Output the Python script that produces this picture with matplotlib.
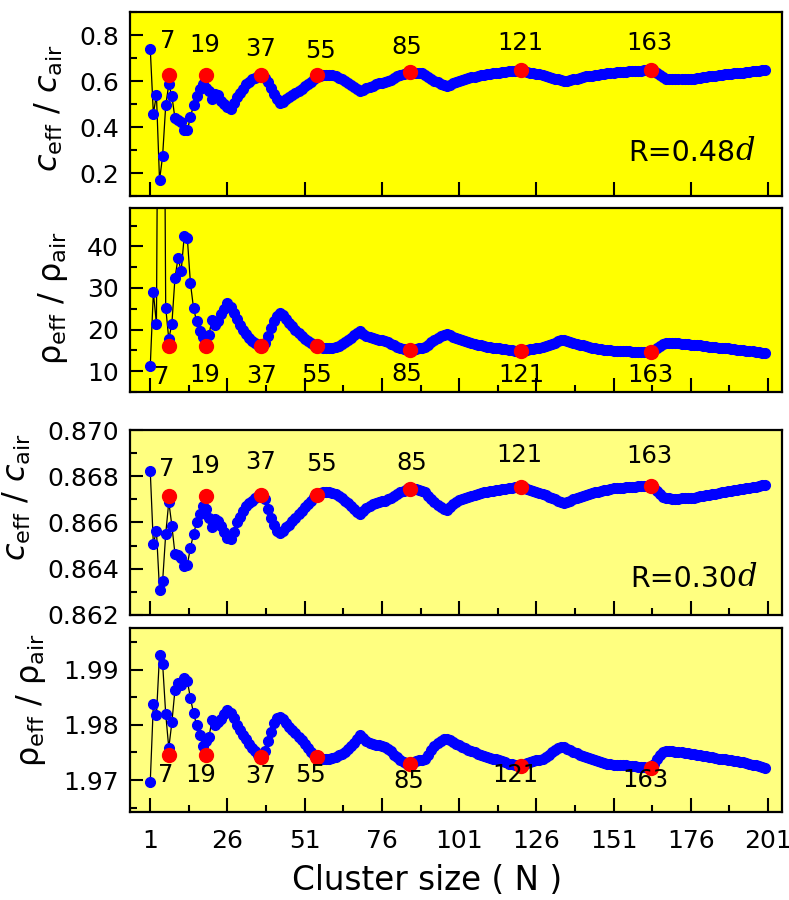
import matplotlib
matplotlib.use('Agg')
import matplotlib.pyplot as plt
import numpy as np

# cluster sizes
N = list(range(1, 201))
magic = [7, 19, 37, 55, 85, 121, 163]

# R = 0.48d : sound speed ratio
c_048 = [
    .740, .458, .540, .168, .274, .494, .585, .535, .438, .430,
    .420, .387, .385, .443, .495, .535, .565, .585, .570, .555,
    .520, .545, .540, .515, .500, .485, .480, .505, .530, .550,
    .565, .585, .598, .608, .615, .620, .625, .615, .595, .570,
    .545, .520, .503, .510, .520, .530, .540, .550, .558, .567,
    .577, .587, .598, .610, .620, .624, .626, .627, .627, .626,
    .622, .615, .608, .600, .592, .583, .574, .565, .558, .563,
    .570, .576, .580, .585, .590, .592, .596, .600, .605, .612,
    .620, .625, .630, .633, .636, .637, .637, .636, .634, .627,
    .619, .610, .602, .595, .588, .581, .577, .584, .590, .596,
    .602, .606, .610, .613, .616, .619, .622, .625, .628, .630,
    .632, .634, .635, .636, .638, .640, .642, .644, .645, .646,
    .647, .645, .641, .637, .634, .632, .630, .627, .623, .619,
    .615, .611, .607, .603, .600, .602, .605, .608, .611, .614,
    .617, .620, .622, .624, .626, .628, .630, .632, .634, .635,
    .637, .638, .639, .640, .641, .642, .642, .643, .644, .645,
    .646, .647, .648, .642, .634, .626, .618, .611, .607, .607,
    .608, .608, .609, .609, .610, .610, .611, .613, .615, .617,
    .618, .620, .621, .623, .625, .627, .629, .630, .632, .633,
    .635, .636, .637, .639, .640, .642, .643, .645, .647, .648]
c_048_magic = [0.626, 0.626, 0.625, 0.625, 0.640, 0.648, 0.650]

# R = 0.48d : density ratio
rho_048 = [
    11.2, 29.0, 21.3, 150, 150, 25.3, 17.7, 21.4, 32.4, 37.2,
    34.0, 42.5, 42.0, 31.2, 25.2, 22.0, 19.7, 18.2, 18.3, 18.8,
    22.4, 21.0, 22.0, 23.7, 25.0, 26.3, 25.5, 24.0, 22.5, 21.2,
    20.0, 19.0, 18.0, 17.3, 16.8, 16.3, 16.0, 16.8, 18.5, 20.3,
    22.0, 23.3, 24.0, 23.5, 22.5, 21.6, 20.8, 20.0, 19.2, 18.5,
    17.8, 17.2, 16.7, 16.3, 16.0, 15.8, 15.6, 15.6, 15.6, 15.7,
    15.8, 16.1, 16.5, 17.0, 17.5, 18.0, 18.6, 19.2, 19.6, 19.0,
    18.5, 18.2, 18.0, 17.8, 17.6, 17.4, 17.2, 17.0, 16.6, 16.2,
    15.9, 15.6, 15.3, 15.1, 15.0, 15.2, 15.4, 15.5, 15.6, 15.8,
    16.4, 17.0, 17.6, 18.1, 18.5, 18.8, 18.9, 18.6, 18.3, 18.0,
    17.7, 17.4, 17.2, 17.0, 16.8, 16.6, 16.4, 16.2, 16.0, 15.9,
    15.8, 15.7, 15.6, 15.5, 15.4, 15.3, 15.1, 15.0, 14.9, 14.8,
    14.8, 14.9, 15.1, 15.3, 15.4, 15.5, 15.6, 15.8, 16.0, 16.3,
    16.6, 16.9, 17.2, 17.4, 17.4, 17.2, 17.0, 16.8, 16.6, 16.4,
    16.2, 16.0, 15.9, 15.7, 15.6, 15.4, 15.3, 15.2, 15.1, 15.0,
    14.9, 14.9, 14.8, 14.8, 14.8, 14.8, 14.7, 14.7, 14.7, 14.6,
    14.6, 14.6, 14.6, 15.1, 15.6, 16.1, 16.5, 16.7, 16.8, 16.8,
    16.7, 16.7, 16.6, 16.6, 16.5, 16.4, 16.4, 16.3, 16.2, 16.1,
    16.0, 15.9, 15.8, 15.8, 15.7, 15.6, 15.6, 15.5, 15.4, 15.3,
    15.2, 15.1, 15.0, 14.9, 14.9, 14.8, 14.7, 14.6, 14.5, 14.4]
rho_048_magic = [16.0, 16.0, 16.0, 16.0, 15.0, 14.8, 14.6]

# R = 0.30d : sound speed ratio
c_030 = [
    .86822, .86507, .86564, .86308, .86345, .86550, .86690, .86586, .86464, .86460,
    .86445, .86410, .86418, .86490, .86550, .86600, .86638, .86672, .86660, .86620,
    .86582, .86615, .86605, .86585, .86560, .86535, .86528, .86560, .86600, .86625,
    .86650, .86670, .86685, .86695, .86705, .86713, .86720, .86700, .86660, .86620,
    .86590, .86565, .86555, .86565, .86580, .86590, .86605, .86620, .86635, .86650,
    .86665, .86680, .86695, .86710, .86722, .86728, .86730, .86730, .86730, .86728,
    .86722, .86715, .86705, .86695, .86683, .86670, .86658, .86645, .86636, .86650,
    .86662, .86672, .86680, .86684, .86688, .86691, .86695, .86700, .86708, .86716,
    .86725, .86730, .86738, .86743, .86746, .86746, .86745, .86742, .86738, .86730,
    .86715, .86700, .86687, .86675, .86665, .86658, .86656, .86668, .86678, .86688,
    .86696, .86702, .86707, .86712, .86716, .86720, .86724, .86728, .86731, .86734,
    .86736, .86738, .86740, .86742, .86744, .86746, .86748, .86750, .86752, .86753,
    .86754, .86752, .86746, .86740, .86735, .86732, .86729, .86724, .86718, .86712,
    .86706, .86700, .86694, .86689, .86686, .86688, .86694, .86700, .86706, .86712,
    .86716, .86720, .86723, .86727, .86730, .86733, .86736, .86739, .86742, .86745,
    .86748, .86749, .86750, .86751, .86752, .86753, .86754, .86755, .86756, .86757,
    .86758, .86759, .86760, .86748, .86735, .86722, .86712, .86706, .86704, .86703,
    .86703, .86703, .86704, .86704, .86704, .86705, .86707, .86710, .86713, .86716,
    .86718, .86721, .86723, .86725, .86728, .86731, .86734, .86736, .86738, .86740,
    .86742, .86744, .86746, .86748, .86750, .86752, .86755, .86758, .86761, .86764]
c_030_magic = [0.86714, 0.86714, 0.86721, 0.86721, 0.86746, 0.86753, 0.86760]

# R = 0.30d : density ratio
rho_030 = [
    1.96969, 1.98375, 1.98180, 1.99275, 1.99115, 1.98200, 1.97582, 1.98048, 1.98640, 1.98770,
    1.98720, 1.98850, 1.98800, 1.98490, 1.98215, 1.98000, 1.97815, 1.97615, 1.97700, 1.97780,
    1.98090, 1.98000, 1.98050, 1.98100, 1.98200, 1.98280, 1.98220, 1.98120, 1.98000, 1.97900,
    1.97820, 1.97740, 1.97660, 1.97590, 1.97520, 1.97460, 1.97420, 1.97520, 1.97700, 1.97880,
    1.98040, 1.98130, 1.98150, 1.98100, 1.98030, 1.97970, 1.97910, 1.97850, 1.97790, 1.97720,
    1.97650, 1.97580, 1.97510, 1.97460, 1.97420, 1.97400, 1.97390, 1.97390, 1.97390, 1.97400,
    1.97420, 1.97450, 1.97480, 1.97510, 1.97560, 1.97620, 1.97680, 1.97750, 1.97810, 1.97760,
    1.97710, 1.97680, 1.97660, 1.97640, 1.97630, 1.97620, 1.97600, 1.97570, 1.97520, 1.97460,
    1.97410, 1.97370, 1.97330, 1.97300, 1.97280, 1.97310, 1.97340, 1.97360, 1.97370, 1.97380,
    1.97460, 1.97540, 1.97610, 1.97670, 1.97710, 1.97740, 1.97750, 1.97720, 1.97690, 1.97660,
    1.97630, 1.97600, 1.97580, 1.97550, 1.97520, 1.97500, 1.97470, 1.97450, 1.97430, 1.97410,
    1.97400, 1.97390, 1.97380, 1.97360, 1.97340, 1.97320, 1.97300, 1.97290, 1.97280, 1.97270,
    1.97260, 1.97280, 1.97310, 1.97330, 1.97350, 1.97360, 1.97370, 1.97390, 1.97420, 1.97460,
    1.97500, 1.97540, 1.97580, 1.97600, 1.97600, 1.97570, 1.97540, 1.97510, 1.97490, 1.97460,
    1.97440, 1.97420, 1.97400, 1.97380, 1.97360, 1.97340, 1.97330, 1.97310, 1.97300, 1.97290,
    1.97280, 1.97280, 1.97270, 1.97270, 1.97270, 1.97260, 1.97260, 1.97250, 1.97240, 1.97230,
    1.97230, 1.97220, 1.97220, 1.97300, 1.97380, 1.97450, 1.97500, 1.97520, 1.97520, 1.97520,
    1.97510, 1.97510, 1.97500, 1.97490, 1.97490, 1.97480, 1.97470, 1.97460, 1.97450, 1.97440,
    1.97430, 1.97420, 1.97410, 1.97400, 1.97390, 1.97380, 1.97380, 1.97370, 1.97360, 1.97350,
    1.97340, 1.97330, 1.97320, 1.97310, 1.97300, 1.97280, 1.97270, 1.97250, 1.97230, 1.97210]
rho_030_magic = [1.97455, 1.97455, 1.97424, 1.97424, 1.97285, 1.97260, 1.97224]

x_ticks = [1, 26, 51, 76, 101, 126, 151, 176, 201]

# where the magic-number labels sit in each panel (data coords)
lab_x = [
    [6.8, 18.8, 36.6, 56.0, 84.2, 120.7, 162.5],
    [4.8, 18.8, 37.1, 54.9, 84.1, 121.3, 162.8],
    [6.4, 18.8, 36.6, 56.6, 85.7, 120.5, 162.6],
    [5.9, 17.2, 36.6, 52.8, 84.6, 119.1, 161.2],
]
lab_y = [
    [0.774, 0.755, 0.739, 0.731, 0.746, 0.764, 0.767],
    [8.7, 9.0, 8.8, 9.1, 9.4, 9.2, 9.0],
    [0.86832, 0.86843, 0.86860, 0.86851, 0.86856, 0.86890, 0.86886],
    [1.9709, 1.9709, 1.9707, 1.9709, 1.9698, 1.9709, 1.9700],
]

fig = plt.figure(figsize=(7.89, 9), dpi=100)
left, width = 0.165, 0.826
bottoms = [0.7822, 0.5644, 0.3167, 0.0978]
heights = [0.2044, 0.2044, 0.2055, 0.2044]
faces = ['#FFFF00', '#FFFF00', '#FFFF80', '#FFFF80']
series = [c_048, rho_048, c_030, rho_030]
red = [c_048_magic, rho_048_magic, c_030_magic, rho_030_magic]
ylims = [(0.1, 0.9), (5.2, 49.2), (0.862, 0.870), (1.9642, 1.9976)]
ymaj = [np.arange(0.2, 0.81, 0.2), [10, 20, 30, 40],
        np.arange(0.862, 0.8701, 0.002), [1.97, 1.98, 1.99]]
ymin = [np.arange(0.1, 0.91, 0.1), np.arange(5, 50, 5),
        np.arange(0.862, 0.8701, 0.001), np.arange(1.965, 1.9976, 0.005)]
yfmt = ['%.1f', '%d', '%.3f', '%.2f']
ylabels = [r'$c_{\rm eff}$ / $c_{\rm air}$', r'ρ$_{\rm eff}$ / ρ$_{\rm air}$',
           r'$c_{\rm eff}$ / $c_{\rm air}$', r'ρ$_{\rm eff}$ / ρ$_{\rm air}$']
ylab_pos = [(-0.100, 0.48), (-0.092, 0.51), (-0.149, 0.635), (-0.126, 0.61)]

axes = []
for i in range(4):
    ax = fig.add_axes([left, bottoms[i], width, heights[i]])
    ax.set_facecolor(faces[i])
    ax.plot(N, series[i], '-', color='black', lw=0.9, marker='o', ms=7,
            mfc='#0000FF', mec='#0000FF', zorder=2)
    ax.plot(magic, red[i], 'o', color='#FF0000', ms=10, mec='#FF0000', zorder=3)
    for k, m in enumerate(magic):
        ax.text(lab_x[i][k], lab_y[i][k], str(m), fontsize=17.5, ha='center', va='center')
    ax.set_xlim(-5.5, 205.5)
    ax.set_ylim(*ylims[i])
    ax.set_xticks(x_ticks)
    ax.set_xticks([t + 12.5 for t in x_ticks[:-1]], minor=True)
    ax.set_yticks(ymaj[i])
    ax.set_yticks(ymin[i], minor=True)
    ax.set_yticklabels([yfmt[i] % v for v in ymaj[i]])
    ax.tick_params(which='both', direction='in', top=False, right=False,
                   labelsize=18, width=1.5)
    ax.tick_params(axis='y', which='major', length=9, pad=8)
    ax.tick_params(axis='y', which='minor', length=5)
    ax.tick_params(axis='x', which='major', length=10, pad=12)
    ax.tick_params(axis='x', which='minor', length=5)
    if i == 0:
        ax.tick_params(axis='x', which='minor', length=0)
    if i < 3:
        ax.tick_params(axis='x', labelbottom=False)
    for s in ax.spines.values():
        s.set_linewidth(1.6)
    ax.set_ylabel(ylabels[i], fontsize=23)
    ax.yaxis.set_label_coords(*ylab_pos[i])
    axes.append(ax)

# R annotations, with a serif italic d
for ax, txt, x, y in [(axes[0], 'R=0.48', 0.928, 0.234), (axes[2], 'R=0.30', 0.931, 0.192)]:
    t = ax.text(x, y, txt, transform=ax.transAxes, fontsize=20.5, ha='right', va='center')
    ax.annotate('d', xy=(1, 0), xycoords=t, fontsize=22, ha='left', va='bottom',
                family='DejaVu Serif', style='italic')

fig.text(0.541, 0.0222, 'Cluster size ( N )', fontsize=23.5, ha='center', va='center')

fig.savefig('out.png', dpi=100)
